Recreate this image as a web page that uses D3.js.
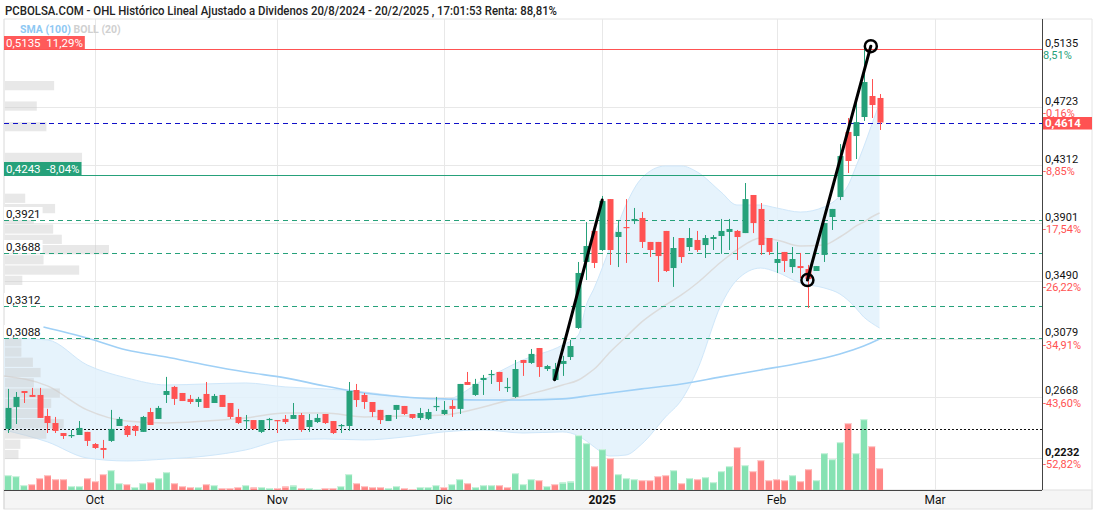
<!DOCTYPE html>
<html>
<head>
<meta charset="utf-8">
<script src="https://cdnjs.cloudflare.com/ajax/libs/d3/7.8.5/d3.min.js"></script>
<style>
  body { margin: 0; background: #fff; }
  svg { display: block; font-family: Roboto, "Liberation Sans", Arial, sans-serif; }
</style>
</head>
<body>
<svg id="chart" width="1096" height="512"></svg>
<script>
// Daily candles, index 0 = 16/9/2024 ... 110 = 20/2/2025
const opens = [0.2441,0.2597,0.2710,0.2682,0.2682,0.2533,0.2483,0.2412,0.2391,0.2398,
  0.2420,0.2334,0.2306,0.2356,0.2462,0.2462,0.2462,0.2420,0.2561,0.2512,
  0.2682,0.2739,0.2696,0.2654,0.2632,0.2689,0.2625,0.2682,0.2625,0.2526,
  0.2497,0.2504,0.2420,0.2504,0.2504,0.2512,0.2512,0.2540,0.2455,0.2490,
  0.2547,0.2497,0.2462,0.2462,0.2717,0.2682,0.2632,0.2576,0.2497,0.2576,
  0.2604,0.2547,0.2519,0.2512,0.2597,0.2547,0.2604,0.2583,0.2774,0.2682,
  0.2788,0.2824,0.2845,0.2732,0.2668,0.2930,0.2909,0.3015,0.2866,0.2788,
  0.2902,0.2951,0.3157,0.3625,0.3845,0.3710,0.4071,0.3802,0.3873,0.3915,
  0.3937,0.3767,0.3767,0.3845,0.3582,0.3795,0.3731,0.3781,0.3745,0.3788,
  0.3809,0.3838,0.3845,0.3830,0.4100,0.4001,0.3795,0.3618,0.3696,0.3589,
  0.3596,0.3575,0.3561,0.3675,0.3944,0.4086,0.4547,0.4518,0.4653,0.4802,0.4788];
const highs = [0.2725,0.2703,0.2710,0.2732,0.2732,0.2583,0.2526,0.2412,0.2434,0.2497,
  0.2420,0.2341,0.2363,0.2576,0.2526,0.2469,0.2469,0.2533,0.2590,0.2604,
  0.2810,0.2746,0.2696,0.2682,0.2668,0.2774,0.2689,0.2682,0.2625,0.2583,
  0.2540,0.2504,0.2504,0.2519,0.2504,0.2540,0.2625,0.2554,0.2547,0.2547,
  0.2547,0.2497,0.2476,0.2774,0.2760,0.2696,0.2632,0.2576,0.2540,0.2611,
  0.2604,0.2547,0.2590,0.2583,0.2668,0.2639,0.2646,0.2760,0.2845,0.2796,
  0.2824,0.2859,0.2845,0.2803,0.2930,0.2930,0.3008,0.3015,0.2895,0.2909,
  0.2959,0.3072,0.3625,0.3908,0.3845,0.4093,0.4071,0.3923,0.4071,0.4008,
  0.3979,0.3767,0.3767,0.3845,0.3802,0.3795,0.3866,0.3845,0.3816,0.3816,
  0.3930,0.3930,0.3852,0.4185,0.4100,0.4043,0.3795,0.3767,0.3696,0.3731,
  0.3689,0.3604,0.3596,0.3901,0.4001,0.4461,0.4646,0.4752,0.5135,0.4922,0.4816];
const lows = [0.2412,0.2476,0.2625,0.2668,0.2519,0.2412,0.2412,0.2370,0.2377,0.2398,
  0.2320,0.2299,0.2232,0.2349,0.2462,0.2384,0.2391,0.2420,0.2469,0.2512,
  0.2625,0.2611,0.2639,0.2618,0.2597,0.2590,0.2625,0.2597,0.2512,0.2476,
  0.2441,0.2434,0.2412,0.2441,0.2412,0.2476,0.2512,0.2420,0.2420,0.2483,
  0.2476,0.2405,0.2412,0.2427,0.2597,0.2583,0.2526,0.2476,0.2497,0.2512,
  0.2540,0.2512,0.2504,0.2504,0.2568,0.2540,0.2526,0.2547,0.2753,0.2675,
  0.2682,0.2760,0.2710,0.2703,0.2661,0.2817,0.2902,0.2810,0.2852,0.2781,
  0.2817,0.2930,0.3150,0.3497,0.3582,0.3703,0.3604,0.3589,0.3618,0.3894,
  0.3724,0.3660,0.3483,0.3554,0.3448,0.3618,0.3703,0.3696,0.3653,0.3710,
  0.3682,0.3710,0.3639,0.3830,0.3830,0.3675,0.3675,0.3547,0.3554,0.3547,
  0.3511,0.3299,0.3561,0.3625,0.3852,0.4064,0.4256,0.4355,0.4625,0.4646,0.4561];
const closes = [0.2590,0.2668,0.2696,0.2668,0.2519,0.2483,0.2427,0.2391,0.2398,0.2448,
  0.2356,0.2306,0.2292,0.2441,0.2512,0.2398,0.2427,0.2526,0.2469,0.2590,
  0.2710,0.2654,0.2639,0.2632,0.2654,0.2590,0.2675,0.2597,0.2526,0.2483,
  0.2504,0.2441,0.2504,0.2512,0.2497,0.2490,0.2540,0.2434,0.2504,0.2519,
  0.2483,0.2412,0.2469,0.2710,0.2646,0.2632,0.2561,0.2504,0.2540,0.2611,
  0.2547,0.2519,0.2554,0.2561,0.2604,0.2576,0.2583,0.2760,0.2753,0.2760,
  0.2803,0.2831,0.2774,0.2739,0.2866,0.2909,0.2973,0.2880,0.2887,0.2866,
  0.2923,0.3029,0.3547,0.3738,0.3618,0.4057,0.3710,0.3838,0.3866,0.3930,
  0.3767,0.3710,0.3667,0.3561,0.3724,0.3660,0.3795,0.3710,0.3795,0.3802,
  0.3845,0.3859,0.3802,0.4071,0.3901,0.3745,0.3696,0.3646,0.3632,0.3646,
  0.3582,0.3504,0.3596,0.3901,0.4001,0.4376,0.4341,0.4617,0.4901,0.4738,0.4614];
const volumes = [15,14,5,6,12,15,11,11,4,4, 12,9,16,20,7,6,3,7,8,12,
  18,7,4,3,3,6,5,2,2,3, 5,2.5,3,2,2,3.5,4.5,2,2,1,
  2,2,4,16,7,4,3,3,2,4, 2,1,3,3,5,3,6,11,7,3,
  5,5,5,3,17,6,11,10,4,6, 7.5,8.5,55,47,24,41,32,16,12,11,
  10,10,14,15,20,7,12,11,13,8, 19,24,43,25,19,30,10,11,10,15,
  9,21,10,37,31,48,67,37,71,44,22];

// Bollinger (20) and SMA (100) at these candle indices
const bandIdx = [-0.5,5,10,15,20,25,30,35,40,45,50,55,60,65,70,72,73,74,76,78,80,83,85,87,90,92,95,97,100,103,105,106,107,108,109,110];
const bandUpper = [0.3086,0.3072,0.2895,0.2803,0.2753,0.2760,0.2767,0.2739,0.2725,0.2703,0.2668,0.2646,0.2788,0.2930,0.3036,0.3107,0.3320,0.3441,0.3731,0.4029,0.4220,0.4306,0.4306,0.4263,0.4121,0.4029,0.4029,0.4008,0.3979,0.4015,0.4093,0.4164,0.4298,0.4440,0.4596,0.4752];
const bandLower = [0.2434,0.2349,0.2235,0.2214,0.2228,0.2249,0.2292,0.2363,0.2370,0.2363,0.2384,0.2420,0.2434,0.2412,0.2420,0.2391,0.2356,0.2313,0.2249,0.2256,0.2334,0.2526,0.2646,0.2859,0.3320,0.3497,0.3582,0.3554,0.3476,0.3441,0.3398,0.3355,0.3299,0.3235,0.3192,0.3157];
const bandMiddle = [0.2817,0.2746,0.2576,0.2497,0.2483,0.2497,0.2519,0.2554,0.2554,0.2526,0.2533,0.2540,0.2597,0.2675,0.2753,0.2788,0.2824,0.2866,0.2987,0.3093,0.3200,0.3320,0.3391,0.3476,0.3625,0.3710,0.3795,0.3781,0.3738,0.3745,0.3802,0.3838,0.3880,0.3908,0.3944,0.3972];
const smaIdx = [4.5,10,15,20,25,30,35,40,45,50,55,60,65,70,74,80,85,90,95,100,105,108,110];
const smaValues = [0.3164,0.3086,0.3001,0.2951,0.2895,0.2845,0.2803,0.2746,0.2696,0.2668,0.2654,0.2646,0.2646,0.2654,0.2682,0.2725,0.2760,0.2810,0.2859,0.2909,0.2973,0.3029,0.3079];

// Volume by price (left side), bin centres and relative volume
const profileBinSize = 0.00727;
const profilePrices = [0.4872,0.4727,0.4581,0.4363,0.4073,0.4000,0.3927,0.3855,0.3782,0.3709,0.3637,0.3564,0.3491,
  0.3055,0.2983,0.2910,0.2837,0.2765,0.2692,0.2619,0.2547,0.2474,0.2401,0.2329,0.2256];
const profileVolumes = [51,33,43,80,21,52,30,50,59,108,40,77,18, 17,17,29,37,30,57,48,35,61,43,16,14];

// Axis ticks
const priceTicks = [0.5135, 0.4723, 0.4312, 0.3901, 0.3490, 0.3079, 0.2668, 0.2232];
const pctTicks = ["8,51%", "-0,16%", "-8,85%", "-17,54%", "-26,22%", "-34,91%", "-43,60%", "-52,82%"];
const monthIdx = [11, 34, 55, 75, 97, 117];
const monthLabels = ["Oct", "Nov", "Dic", "2025", "Feb", "Mar"];

// Levels and drawings
const lastPrice = 0.4614;
const maxLevel = 0.5135, maxPct = "11,29%";
const minLevel = 0.4243, minPct = "-8,04%";
const supportLevels = [0.3921, 0.3688, 0.3312, 0.3088];
const dottedLevel = 0.2441;
const trendLines = [
  [[69, 0.2790], [75, 0.4064]],
  [[100.9, 0.3497], [108.9, 0.5155]]
];
const circlePoints = [[100.9, 0.3497], [108.9, 0.5155]];

const title = "PCBOLSA.COM - OHL Histórico Lineal Ajustado a Dividenos 20/8/2024 - 20/2/2025 , 17:01:53 Renta: 88,81%";

const GREEN = "#26a17a", RED = "#ff5252";
const fmt = v => v.toFixed(4).replace(".", ",");

const plotL = 4, plotR = 1042, plotT = 19, plotB = 490;
const svg = d3.select("#chart");

const x = d3.scaleLinear().domain([-0.48, 130.5]).range([plotL, plotR]);
const y = d3.scaleLinear().domain([0.2008, 0.5348]).range([plotB, plotT]);
const yVol = d3.scaleLinear().domain([0, 71]).range([plotB, 419]);
const xProf = d3.scaleLinear().domain([0, 108]).range([0, 104]);

const candles = opens.map((o, i) => ({ i, o, h: highs[i], l: lows[i], c: closes[i], v: volumes[i] }));

// title + frame
svg.append("rect").attr("width", 1096).attr("height", 512).attr("fill", "#fff");
svg.append("text").attr("x", 5).attr("y", 15)
  .style("font-size", "12px").style("font-weight", 500).attr("fill", "#222")
  .attr("textLength", 552).attr("lengthAdjust", "spacingAndGlyphs")
  .text(title);
svg.append("rect").attr("x", plotL).attr("y", plotB).attr("width", 1088).attr("height", 19)
  .attr("fill", "#f5f5f5").attr("stroke", "#e0e0e0");
svg.append("line").attr("x1", plotL).attr("x2", plotL).attr("y1", plotT).attr("y2", 509).attr("stroke", "#d8d8d8");
svg.append("line").attr("x1", 1092).attr("x2", 1092).attr("y1", plotT).attr("y2", 509).attr("stroke", "#e4e4e4");
svg.append("line").attr("x1", plotL).attr("x2", 1092).attr("y1", plotT).attr("y2", plotT).attr("stroke", "#e4e4e4");

// grid
const grid = svg.append("g").attr("stroke", "#e8e8e8").attr("stroke-width", 1);
grid.selectAll(".hg").data(priceTicks).join("line")
  .attr("x1", plotL).attr("x2", plotR).attr("y1", d => Math.round(y(d)) + 0.5).attr("y2", d => Math.round(y(d)) + 0.5);
grid.selectAll(".vg").data(monthIdx).join("line")
  .attr("x1", d => Math.round(x(d)) + 0.5).attr("x2", d => Math.round(x(d)) + 0.5)
  .attr("y1", plotT).attr("y2", plotB);

// Bollinger band
const band = bandIdx.map((d, k) => ({ i: d, up: bandUpper[k], lo: bandLower[k], mid: bandMiddle[k] }));
svg.append("path").datum(band)
  .attr("fill", "#e2f1fc").attr("fill-opacity", 0.85)
  .attr("d", d3.area().x(d => x(d.i)).y0(d => y(d.lo)).y1(d => y(d.up)).curve(d3.curveMonotoneX));
["up", "lo"].forEach(k => {
  svg.append("path").datum(band).attr("fill", "none").attr("stroke", "#cfe7fa").attr("stroke-width", 1)
    .attr("d", d3.line().x(d => x(d.i)).y(d => y(d[k])).curve(d3.curveMonotoneX));
});
svg.append("path").datum(band).attr("fill", "none").attr("stroke", "#dcdcdc").attr("stroke-width", 1.5)
  .attr("d", d3.line().x(d => x(d.i)).y(d => y(d.mid)).curve(d3.curveMonotoneX));

// SMA 100
svg.append("path").datum(smaIdx.map((d, k) => [d, smaValues[k]]))
  .attr("fill", "none").attr("stroke", "#9fd0f6").attr("stroke-width", 1.6)
  .attr("d", d3.line().x(d => x(d[0])).y(d => y(d[1])).curve(d3.curveMonotoneX));

// volume profile
svg.append("g").selectAll("rect").data(profilePrices).join("rect")
  .attr("x", plotL + 1)
  .attr("y", d => y(d + profileBinSize / 2))
  .attr("width", (d, k) => xProf(profileVolumes[k]))
  .attr("height", d => y(d - profileBinSize / 2) - y(d + profileBinSize / 2) - 1)
  .attr("fill", "#c8c8c8").attr("fill-opacity", 0.42);

// volume bars, coloured by close vs previous close
const volUp = d => d.i === 0 || d.c >= candles[d.i - 1].c;
const vol = svg.append("g");
vol.selectAll(".vb").data(candles).join("rect")
  .attr("x", d => x(d.i) - 3).attr("width", 6.5)
  .attr("y", d => yVol(d.v)).attr("height", d => plotB - yVol(d.v))
  .attr("fill", d => volUp(d) ? "#86e2b3" : "#ff8585");
vol.selectAll(".vt").data(candles).join("rect")
  .attr("x", d => x(d.i) - 3).attr("width", 6.5)
  .attr("y", d => yVol(d.v)).attr("height", 1.2)
  .attr("fill", d => volUp(d) ? "#c9f3dc" : "#ffc8c8");

// horizontal levels
function hline(v, color, dash, width) {
  svg.append("line").attr("x1", plotL).attr("x2", plotR)
    .attr("y1", Math.round(y(v)) + 0.5).attr("y2", Math.round(y(v)) + 0.5)
    .attr("stroke", color).attr("stroke-width", width || 1)
    .attr("stroke-dasharray", dash || null);
}
hline(maxLevel, RED);
hline(minLevel, GREEN);
supportLevels.forEach(v => hline(v, GREEN, "5,4"));
hline(lastPrice, "#1010c8", "5,4");
hline(dottedLevel, "#111", "2,2");

// candles
const cg = svg.append("g").selectAll("g").data(candles).join("g");
cg.append("line")
  .attr("x1", d => Math.round(x(d.i)) + 0.5).attr("x2", d => Math.round(x(d.i)) + 0.5)
  .attr("y1", d => y(d.h)).attr("y2", d => y(d.l))
  .attr("stroke", d => d.c >= d.o ? GREEN : RED).attr("stroke-width", 1);
cg.append("rect")
  .attr("x", d => Math.round(x(d.i)) - 2.5).attr("width", 6)
  .attr("y", d => y(Math.max(d.o, d.c)))
  .attr("height", d => Math.max(1.2, Math.abs(y(d.o) - y(d.c))))
  .attr("fill", d => d.c >= d.o ? GREEN : RED);

// hand drawn trend lines
trendLines.forEach(seg => {
  svg.append("line")
    .attr("x1", x(seg[0][0])).attr("y1", y(seg[0][1]))
    .attr("x2", x(seg[1][0])).attr("y2", y(seg[1][1]))
    .attr("stroke", "#000").attr("stroke-width", 3).attr("stroke-linecap", "round");
});
svg.selectAll(".cp").data(circlePoints).join("circle")
  .attr("cx", d => x(d[0])).attr("cy", d => y(d[1])).attr("r", 6)
  .attr("fill", "none").attr("stroke", "#000").attr("stroke-width", 2.5);

// left labels, box sized to its text
function boxLabel(v, txt, bg, color) {
  const yy = Math.round(y(v));
  const r = svg.append("rect").attr("x", plotL).attr("y", yy - 13).attr("height", 13).attr("fill", bg);
  const t = svg.append("text").attr("x", plotL + 2).attr("y", yy - 2.5)
    .style("font-size", "11.5px").attr("fill", color).attr("xml:space", "preserve").text(txt);
  r.attr("width", t.node().getComputedTextLength() + 4);
}
boxLabel(maxLevel, fmt(maxLevel) + "  " + maxPct, "#ff5a5a", "#fff");
boxLabel(minLevel, fmt(minLevel) + "  " + minPct, GREEN, "#fff");
supportLevels.forEach(v => boxLabel(v, fmt(v), "#fff", "#111"));

// right axis
svg.append("line").attr("x1", plotR + 0.5).attr("x2", plotR + 0.5).attr("y1", plotT).attr("y2", plotB)
  .attr("stroke", "#444");
svg.append("line").attr("x1", plotL).attr("x2", plotR).attr("y1", plotB + 0.5).attr("y2", plotB + 0.5)
  .attr("stroke", "#444");
const ra = svg.append("g").style("font-size", "11px");
ra.selectAll(".rp").data(priceTicks).join("text")
  .attr("x", plotR + 3).attr("y", d => y(d) - 2.5)
  .style("font-weight", (d, k) => k === priceTicks.length - 1 ? 700 : 400)
  .attr("fill", "#111").text(fmt);
ra.selectAll(".rq").data(priceTicks).join("text")
  .attr("x", plotR + 1).attr("y", d => y(d) + 10)
  .attr("fill", (d, k) => pctTicks[k].startsWith("-") ? "#ff5252" : GREEN)
  .text((d, k) => pctTicks[k]);
const ly = y(lastPrice);
svg.append("rect").attr("x", plotR + 1).attr("y", ly - 5.5).attr("width", 49).attr("height", 12.5).attr("fill", "#ff5252");
svg.append("text").attr("x", plotR + 3).attr("y", ly + 4.5).style("font-size", "11.5px").style("font-weight", 700)
  .attr("fill", "#fff").text(fmt(lastPrice));

// x axis labels
svg.selectAll(".ml").data(monthIdx).join("text")
  .attr("x", d => x(d)).attr("y", 504).attr("text-anchor", "middle")
  .style("font-size", "12px").style("font-weight", (d, k) => monthLabels[k] === "2025" ? 700 : 400)
  .attr("fill", "#111").text((d, k) => monthLabels[k]);

// indicator legend
const lg = svg.append("text").attr("x", 20).attr("y", 33).style("font-size", "10.5px").style("font-weight", 700);
lg.append("tspan").attr("fill", "#8ec8f3").text("SMA (100) ");
lg.append("tspan").attr("fill", "#d0d0d0").text("BOLL (20)");
</script>
</body>
</html>
